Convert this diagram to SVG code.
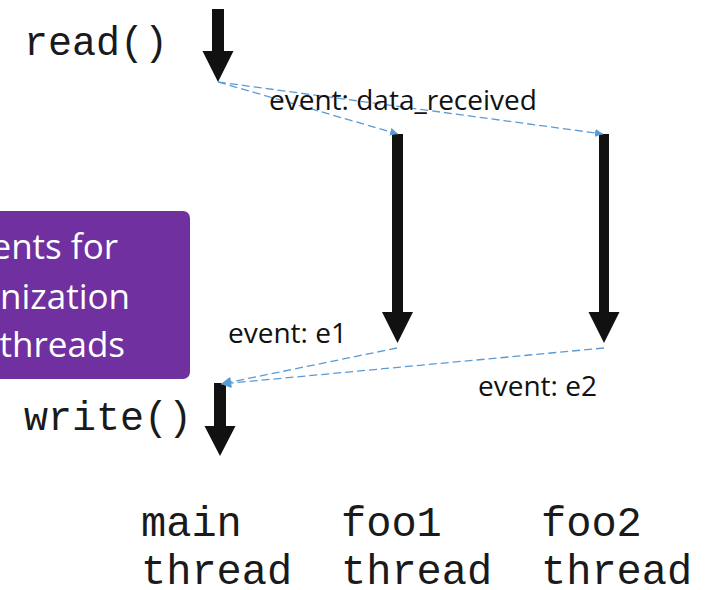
<svg xmlns="http://www.w3.org/2000/svg" width="708" height="590" viewBox="0 0 708 590">
  <style>
    .mono { font-family: "Liberation Mono", "Courier New", monospace; font-size: 40px; fill: #1a1a1a; }
    .cap { font-size: 42px; }
    .lbl { font-family: "Open Sans", "Noto Sans", sans-serif; font-size: 28px; fill: #111; }
    .note { font-family: "Open Sans", "Noto Sans", sans-serif; font-size: 35px; fill: #fff; text-anchor: end; }
    .flow { fill: #111; }
    .evt { fill: none; stroke: #5B9BD5; stroke-width: 1.3; stroke-dasharray: 8 4; }
  </style>
  <defs>
    <marker id="tri" viewBox="0 0 10 10" refX="10" refY="5" markerWidth="8" markerHeight="8" markerUnits="userSpaceOnUse" orient="auto">
      <path d="M0,0 L10,5 L0,10 Z" fill="#5B9BD5"/>
    </marker>
    <marker id="triBig" viewBox="0 0 10 10" refX="10" refY="5" markerWidth="12" markerHeight="10" markerUnits="userSpaceOnUse" orient="auto">
      <path d="M0,0 L10,5 L0,10 Z" fill="#5B9BD5"/>
    </marker>
  </defs>

  <!-- note box, partly off the left edge -->
  <g id="note">
    <rect x="-12" y="211" width="202" height="168" rx="7" fill="#7030A0"/>
    <text class="note" x="118" y="259">ents for</text>
    <text class="note" x="130" y="309">nization</text>
    <text class="note" x="125" y="357">threads</text>
  </g>

  <!-- main thread: read() -->
  <g id="main-read">
    <text class="mono" x="24" y="55">read()</text>
    <path class="flow" d="M212,9 H224 V51 H233.5 L218,82 L202.5,51 H212 Z"/>
  </g>

  <!-- foo1 thread -->
  <g id="foo1">
    <path class="flow" d="M392,134 H403 V312 H413 L397.5,343 L382,312 H392 Z"/>
  </g>

  <!-- foo2 thread -->
  <g id="foo2">
    <path class="flow" d="M599,134 H609 V312 H619.5 L604,343 L588.5,312 H599 Z"/>
  </g>

  <!-- main thread: write() -->
  <g id="main-write">
    <text class="mono" x="24" y="430">write()</text>
    <path class="flow" d="M214,383 H226 V426 H235.5 L220,456 L204.5,426 H214 Z"/>
  </g>

  <!-- event connectors -->
  <g id="connectors">
    <line class="evt" x1="218" y1="82" x2="398" y2="134" marker-end="url(#tri)"/>
    <line class="evt" x1="218" y1="82" x2="603" y2="134" marker-end="url(#tri)"/>
    <line class="evt" x1="397" y1="348" x2="221" y2="384" marker-end="url(#triBig)"/>
    <line class="evt" x1="604" y1="348" x2="221" y2="384" marker-end="url(#triBig)"/>
    <text class="lbl" x="269" y="110">event: data_received</text>
    <text class="lbl" x="228" y="343">event: e1</text>
    <text class="lbl" x="478" y="396">event: e2</text>
  </g>

  <!-- thread captions -->
  <g id="captions">
    <text class="mono cap" x="141" y="536">main</text>
    <text class="mono cap" x="141" y="584">thread</text>
    <text class="mono cap" x="341" y="536">foo1</text>
    <text class="mono cap" x="341" y="584">thread</text>
    <text class="mono cap" x="541" y="536">foo2</text>
    <text class="mono cap" x="541" y="584">thread</text>
  </g>
</svg>
